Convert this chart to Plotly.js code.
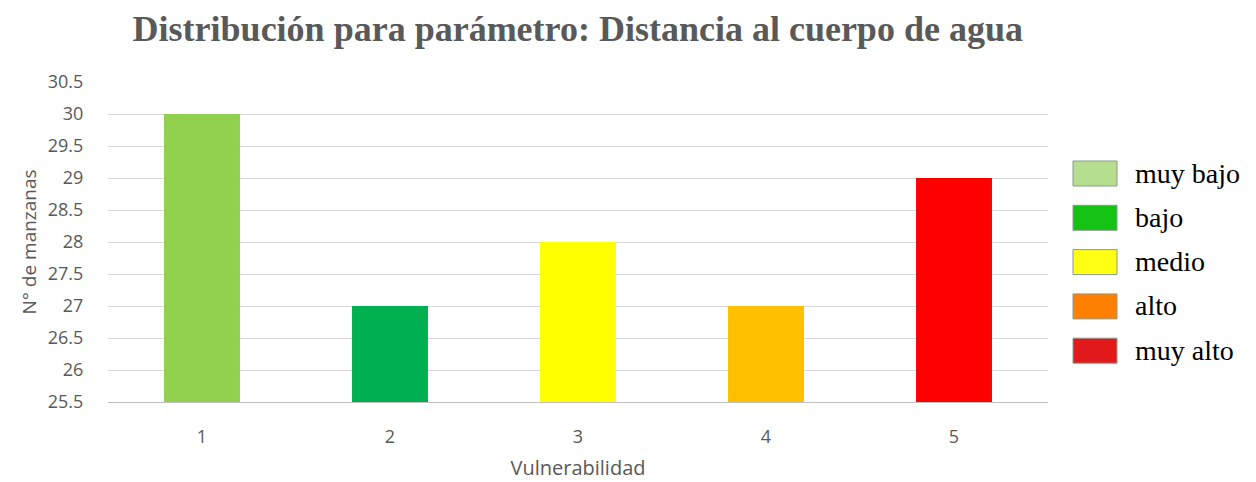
<!DOCTYPE html>
<html>
<head>
<meta charset="utf-8">
<script src="https://cdn.plot.ly/plotly-3.0.1.min.js"></script>
<style>html,body{margin:0;padding:0;background:#fff}#chart{width:1256px;height:482px}</style>
</head>
<body>
<div id="chart"></div>
<script>
const categories = ["1", "2", "3", "4", "5"];
const values = [30, 27, 28, 27, 29];
const barColors = ["#92d050", "#00b050", "#ffff00", "#ffc000", "#ff0000"];
const yTicks = [25.5, 26, 26.5, 27, 27.5, 28, 28.5, 29, 29.5, 30, 30.5];
const legendLabels = ["muy bajo", "bajo", "medio", "alto", "muy alto"];
const legendColors = ["#b5de8f", "#13c213", "#ffff14", "#ff8000", "#e31a1c"];

const trace = {
  type: "bar",
  x: categories,
  y: values,
  base: 0,
  marker: {color: barColors},
  width: 0.404,
  showlegend: false,
  hoverinfo: "x+y"
};

const W = 1256, H = 482;
const shapes = [], annotations = [];
legendLabels.forEach((lab, i) => {
  const top = 161 + i * 44.3;
  shapes.push({
    type: "rect", xref: "paper", yref: "paper",
    x0: (1073 - 108) / (1048 - 108), x1: (1117 - 108) / (1048 - 108),
    y0: (402 - (top + 25)) / 320, y1: (402 - top) / 320,
    fillcolor: legendColors[i], line: {color: "#8c9a8c", width: 1}
  });
  annotations.push({
    xref: "paper", yref: "paper",
    x: (1133 - 108) / (1048 - 108), y: (402 - (top + 12)) / 320,
    xanchor: "left", yanchor: "middle", showarrow: false,
    text: lab, font: {family: "Liberation Serif, serif", size: 28, color: "#000"}
  });
});

const layout = {
  width: W, height: H,
  margin: {l: 108, r: 208, t: 82, b: 80, pad: 0},
  paper_bgcolor: "#fff", plot_bgcolor: "#fff",
  title: {
    text: "<b>Distribución para parámetro: Distancia al cuerpo de agua</b>",
    font: {family: "Liberation Serif, serif", size: 36, color: "#595959"},
    x: 0.46, xanchor: "center", y: 0.942, yanchor: "middle"
  },
  xaxis: {
    type: "category",
    showgrid: false,
    showline: true, linecolor: "#bfbfbf", linewidth: 1,
    ticks: "outside", ticklen: 18, tickcolor: "rgba(0,0,0,0)",
    tickfont: {family: "Open Sans, sans-serif", size: 18, color: "#595959"},
    title: {text: "Vulnerabilidad", font: {family: "Open Sans, sans-serif", size: 20, color: "#595959"}, standoff: 14}
  },
  yaxis: {
    range: [25.5, 30.5],
    tickvals: yTicks,
    ticktext: yTicks.map(String),
    showgrid: true, gridcolor: "#d9d9d9", gridwidth: 1,
    zeroline: false, showline: false,
    ticks: "outside", ticklen: 20, tickcolor: "rgba(0,0,0,0)",
    tickfont: {family: "Open Sans, sans-serif", size: 18, color: "#595959"},
    title: {text: "N° de manzanas", font: {family: "Open Sans, sans-serif", size: 19, color: "#595959"}, standoff: 6}
  },
  shapes: shapes,
  annotations: annotations
};

Plotly.newPlot("chart", [trace], layout, {displayModeBar: false, staticPlot: true});
</script>
</body>
</html>
